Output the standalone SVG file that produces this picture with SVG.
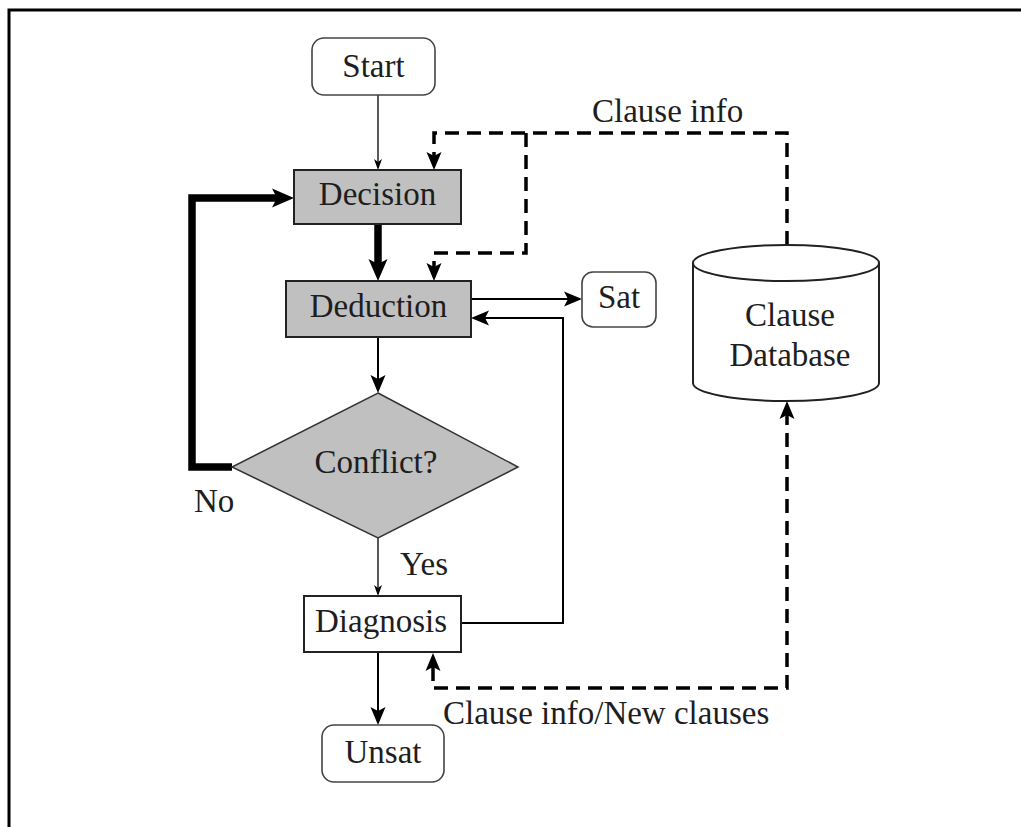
<svg xmlns="http://www.w3.org/2000/svg" width="1021" height="827" viewBox="0 0 1021 827">
  <style>
    .lbl { font-family: "Liberation Serif", "Times New Roman", serif; font-size: 33px; fill: #1e1e1e; }
    .mid { text-anchor: middle; }
    .box { stroke: #222; stroke-width: 2; }
    .grey { fill: #c0c0c0; }
    .white { fill: #fff; }
    .term { fill: #fff; stroke: #444; stroke-width: 1.6; }
    .edge { fill: none; stroke: #000; stroke-linejoin: miter; }
    .thin { stroke-width: 1.3; }
    .med { stroke-width: 2; }
    .thick { stroke-width: 7.5; }
    .dash { stroke-width: 3.5; stroke-dasharray: 14 8; }
  </style>
  <defs>
    <marker id="ah-sm" markerUnits="userSpaceOnUse" markerWidth="11" markerHeight="8" refX="3" refY="4" orient="auto-start-reverse" overflow="visible">
      <path d="M0,0 L11,4 L0,8 L3,4 z" fill="#000"/>
    </marker>
    <marker id="ah-md" markerUnits="userSpaceOnUse" markerWidth="18" markerHeight="15" refX="4" refY="7.5" orient="auto-start-reverse" overflow="visible">
      <path d="M0,0 L18,7.5 L0,15 L4,7.5 z" fill="#000"/>
    </marker>
    <marker id="ah-lg" markerUnits="userSpaceOnUse" markerWidth="22" markerHeight="19" refX="5" refY="9.5" orient="auto-start-reverse" overflow="visible">
      <path d="M0,0 L22,9.5 L0,19 L5,9.5 z" fill="#000"/>
    </marker>
  </defs>

  <!-- page frame -->
  <path d="M9,827 V10 H1021" fill="none" stroke="#000" stroke-width="3"/>

  <!-- connectors -->
  <g id="connectors">
    <path class="edge thin" d="M378,95 V162" marker-end="url(#ah-sm)"/>
    <path class="edge thick" d="M378,224 V264" marker-end="url(#ah-lg)"/>
    <path class="edge thick" d="M232,467 H192 V198 H277" marker-end="url(#ah-lg)"/>
    <path class="edge med" d="M378,337 V379" marker-end="url(#ah-md)"/>
    <path class="edge med" d="M471,299 H568" marker-end="url(#ah-md)"/>
    <path class="edge med" d="M461,623 H563 V318 H485" marker-end="url(#ah-md)"/>
    <path class="edge thin" d="M378,538 V588" marker-end="url(#ah-sm)"/>
    <path class="edge med" d="M378,652 V711" marker-end="url(#ah-md)"/>
    <path class="edge dash" d="M787,245 V133 H434 V156" marker-end="url(#ah-md)"/>
    <path class="edge dash" d="M526,133 V253 H434 V267" marker-end="url(#ah-md)"/>
    <path class="edge dash" d="M433,667 V688 H787 V415" marker-start="url(#ah-md)" marker-end="url(#ah-md)"/>
    <text class="lbl" x="592" y="122">Clause info</text>
    <text class="lbl" x="443" y="724">Clause info/New clauses</text>
    <text class="lbl" x="194" y="512">No</text>
    <text class="lbl" x="400" y="575">Yes</text>
  </g>

  <g id="start">
    <rect class="term" x="312" y="38" width="123" height="57" rx="12"/>
    <text class="lbl mid" x="373.5" y="77">Start</text>
  </g>

  <g id="decision">
    <rect class="box grey" x="294" y="170" width="167" height="54"/>
    <text class="lbl mid" x="377.5" y="205">Decision</text>
  </g>

  <g id="deduction">
    <rect class="box grey" x="286" y="281" width="185" height="56"/>
    <text class="lbl mid" x="378.5" y="317">Deduction</text>
  </g>

  <g id="sat">
    <rect class="term" x="582" y="272" width="74" height="55" rx="11"/>
    <text class="lbl mid" x="619" y="308">Sat</text>
  </g>

  <g id="conflict">
    <polygon class="grey" points="378,393 518,467 378,538 232,467" stroke="#333" stroke-width="1.5"/>
    <text class="lbl mid" x="376" y="473">Conflict?</text>
  </g>

  <g id="diagnosis">
    <rect class="box white" x="304" y="596" width="157" height="56"/>
    <text class="lbl mid" x="381" y="632">Diagnosis</text>
  </g>

  <g id="unsat">
    <rect class="term" x="322" y="725" width="122" height="57" rx="12"/>
    <text class="lbl mid" x="383" y="763">Unsat</text>
  </g>

  <g id="clause-database">
    <path d="M693,263 V383 A93,18 0 0 0 879,383 V263" fill="#fff" stroke="#222" stroke-width="2"/>
    <ellipse cx="786" cy="263" rx="93" ry="18" fill="#fff" stroke="#222" stroke-width="2"/>
    <text class="lbl mid" x="790" y="326">Clause</text>
    <text class="lbl mid" x="790" y="366">Database</text>
  </g>
</svg>
